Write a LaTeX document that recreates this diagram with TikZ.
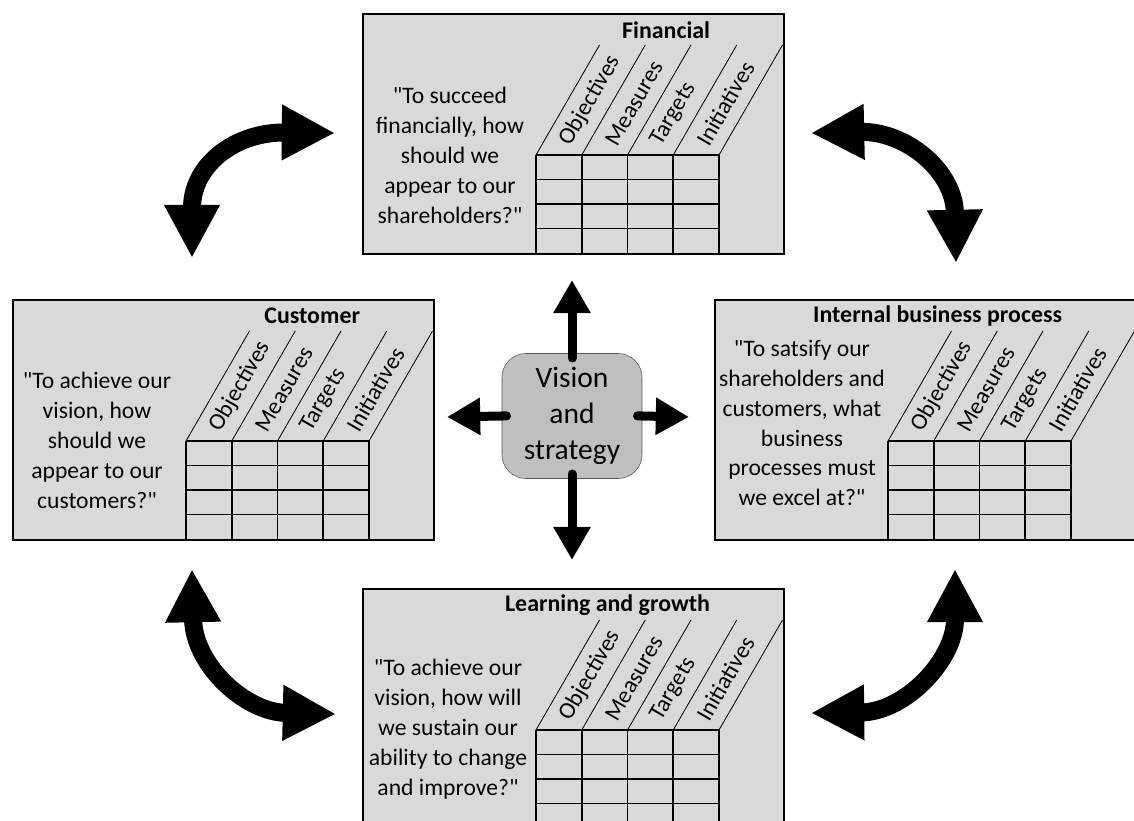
\documentclass[tikz,border=0pt]{standalone}
\usepackage{fontspec}
\setmainfont{Carlito}[Ligatures=TeXOff]
\usetikzlibrary{arrows.meta}

\definecolor{panelgray}{HTML}{D9D9D9}
\definecolor{visiongray}{HTML}{BFBFBF}
\definecolor{visionedge}{HTML}{595959}

\begin{document}
\begin{tikzpicture}[x=0.025cm, y=-0.025cm,
    panel/.style={draw, fill=panelgray, line width=1.1pt, anchor=north west,
      minimum width=10.525cm, minimum height=6cm, inner sep=0pt},
    question/.style={align=center, font=\fontsize{16.8}{21.3}\selectfont},
    heading/.style={anchor=east, font=\fontsize{17}{20}\selectfont\bfseries},
    colhead/.style={anchor=west, rotate=60, inner sep=0pt, font=\fontsize{16.8}{20}\selectfont},
    cell/.style={line width=1.1pt},
    slant/.style={line width=0.6pt},
    vision/.style={draw=visionedge, fill=visiongray, rounded corners=0.6cm,
      minimum width=3.5cm, minimum height=3.125cm, align=center,
      font=\fontsize{21}{25.6}\selectfont},
    spoke/.style={line width=0.225cm, line cap=round,
      -{Triangle[length=0.83cm, width=0.88cm]}, shorten <=-0.12cm},
    swing/.style={line width=0.45cm,
      {Triangle[length=1.33cm, width=1.3cm]}-{Triangle[length=1.33cm, width=1.3cm]}}]
  \useasboundingbox (0,0) rectangle (1134,821);
  \clip (0,0) rectangle (1134,821);

  % the four perspectives
  \node[panel] (fin) at (362,13) {};
  \node[panel] (cus) at (12,299) {};
  \node[panel] (int) at (714,299) {};
  \node[panel] (lrn) at (362,588) {};

  \foreach \p/\t in {fin/Financial, cus/Customer, int/Internal business process, lrn/Learning and growth}{
    \begin{scope}[shift={(\p.north west)}]
      \node[heading] (\p-head) at (353,17) {\t};
      \foreach \i in {0,...,4}{
        \draw[cell] (174+\i*45.75,142) -- (174+\i*45.75,240);
        \draw[slant] (174+\i*45.75,142) -- ++(63.5,-110);
      }
      \foreach \j in {0,...,3}
        \draw[cell] (174,142+\j*24.5) -- (357,142+\j*24.5);
      \foreach \c [count=\k from 0] in {Objectives,Measures,Targets,Initiatives}
        \node[colhead] (\p-\c) at (174+\k*45.75+29,131) {\c};
    \end{scope}
  }

  \node[question] (fin-q) at (450,155) {"To succeed\\financially, how\\should we\\appear to our\\shareholders?"};
  \node[question] (cus-q) at (97,440) {"To achieve our\\vision, how\\should we\\appear to our\\customers?"};
  \node[question] (int-q) at (802,423) {"To satsify our\\shareholders and\\customers, what\\business\\processes must\\we excel at?"};
  \node[question] (lrn-q) at (448,729) {"To achieve our\\vision, how will\\we sustain our\\ability to change\\and improve?"};

  % centre
  \node[vision] (vis) at (572,416) {Vision\\and\\strategy};
  \coordinate (vis-up) at (572,280);
  \coordinate (vis-rt) at (689,417);
  \coordinate (vis-lf) at (447,417);
  \coordinate (vis-dn) at (572,560);
  \draw[spoke] (vis.north) -- (vis-up);
  \draw[spoke] (vis.east) -- (vis-rt);
  \draw[spoke] (vis.west) -- (vis-lf);
  \draw[spoke] (vis.south) -- (vis-dn);

  % curved arrows between the perspectives
  \coordinate (tl-a) at (192,258); \coordinate (tl-b) at (335,133);
  \coordinate (tr-a) at (811,133); \coordinate (tr-b) at (956,263);
  \coordinate (bl-a) at (192,569); \coordinate (bl-b) at (336,714);
  \coordinate (br-a) at (955,569); \coordinate (br-b) at (811,713);
  \draw[swing] (tl-a) .. controls (192,165) and (235,132) .. (tl-b);
  \draw[swing] (tr-a) .. controls (905,131) and (954,170) .. (tr-b);
  \draw[swing] (bl-a) .. controls (194,665) and (245,712) .. (bl-b);
  \draw[swing] (br-a) .. controls (955,660) and (905,712) .. (br-b);
\end{tikzpicture}
\end{document}
